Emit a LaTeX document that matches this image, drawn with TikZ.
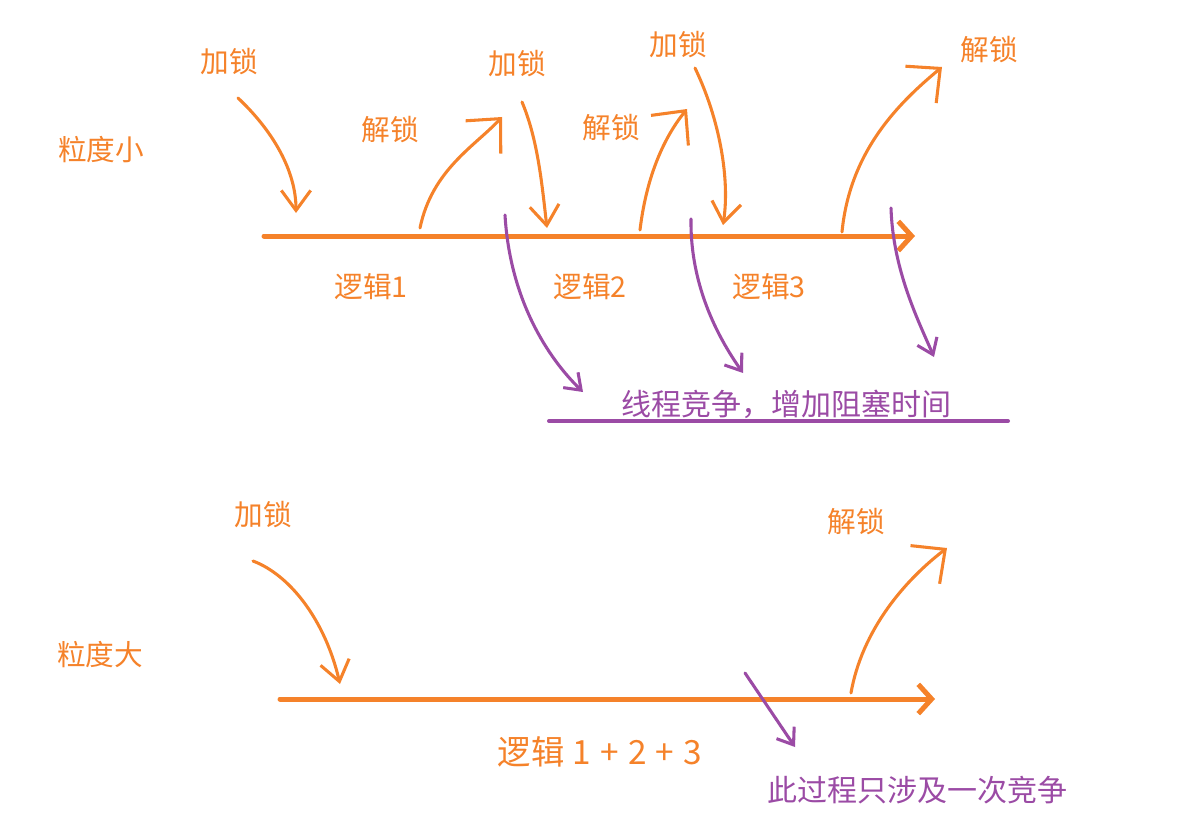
\documentclass[tikz,border=0pt]{standalone}
\usepackage{fontspec}
\setmainfont{Noto Sans CJK SC}
\usetikzlibrary{arrows.meta}
\definecolor{lockorange}{HTML}{F5822A}
\definecolor{racepurple}{HTML}{9B4BA5}
\begin{document}
\begin{tikzpicture}[x=0.75pt, y=-0.75pt, line join=round, line cap=round,
		lbl/.style={text=lockorange, inner sep=0pt, font=\fontsize{21.5}{25}\selectfont},
		racelbl/.style={lbl, text=racepurple, font=\fontsize{22.5}{26}\selectfont},
		axis/.style={draw=lockorange, line width=3.75pt, -{Straight Barb[length=10pt,width=22pt]}},
		lockarr/.style={draw=lockorange, line width=2.3pt, -{Straight Barb[length=15pt,width=22pt]}},
		freearr/.style={draw=lockorange, line width=2.3pt, -{Straight Barb[length=19pt,width=36pt]}},
		racearr/.style={draw=racepurple, line width=2.3pt, -{Straight Barb[length=11pt,width=16pt]}}]
	\useasboundingbox (0,0) rectangle (1183,824);
	% fine grained
	\node[lbl] (small) at (101,150) {粒度小};
	\foreach \n/\x/\y/\t in {lkA/229/62/加锁, ulA/390/130/解锁, lkB/517/64/加锁, ulB/611/128/解锁,
		lkC/678/45/加锁, ulC/989/50/解锁, lg1/371/287/逻辑1, lg2/590/287/逻辑2, lg3/769/287/逻辑3}{
		\node[lbl] (\n) at (\x,\y) {\t};}
	\coordinate (ax1s) at (264,236); \coordinate (ax1e) at (915,236);
	\draw[axis] (ax1s) -- (ax1e);
	\coordinate (a1s) at (238,98);  \coordinate (a1e) at (296,213);
	\coordinate (a2s) at (420,228); \coordinate (a2e) at (502,117);
	\coordinate (a3s) at (522,102); \coordinate (a3e) at (547,228);
	\coordinate (a4s) at (640,230); \coordinate (a4e) at (687,109);
	\coordinate (a5s) at (695,68);  \coordinate (a5e) at (723,225);
	\coordinate (a6s) at (842,232); \coordinate (a6e) at (942,67);
	\draw[lockarr] (a1s) .. controls (272,130) and (296,170) .. (a1e);
	\draw[freearr] (a2s) .. controls (432,170) and (475,146) .. (a2e);
	\draw[lockarr] (a3s) .. controls (538,140) and (542,185) .. (a3e);
	\draw[freearr] (a4s) .. controls (646,180) and (662,140) .. (a4e);
	\draw[lockarr] (a5s) .. controls (720,120) and (730,180) .. (a5e);
	\draw[freearr] (a6s) .. controls (850,150) and (900,102) .. (a6e);
	% contention
	\node[racelbl] (race) at (786,404) {线程竞争，增加阻塞时间};
	\coordinate (rls) at (549,421); \coordinate (rle) at (1008,421);
	\draw[racepurple, line width=3pt] (rls) -- (rle);
	\coordinate (r1s) at (505,215); \coordinate (r1e) at (583,392);
	\coordinate (r2s) at (691,219); \coordinate (r2e) at (743,373);
	\coordinate (r3s) at (891,208); \coordinate (r3e) at (934,357);
	\draw[racearr] (r1s) .. controls (510,300) and (548,358) .. (r1e);
	\draw[racearr] (r2s) .. controls (690,290) and (722,343) .. (r2e);
	\draw[racearr] (r3s) .. controls (893,270) and (918,320) .. (r3e);
	% coarse grained
	\node[lbl] (big) at (100,655) {粒度大};
	\node[lbl] (lkD) at (263,515) {加锁};
	\node[lbl] (ulD) at (856,522) {解锁};
	\node[lbl, font=\fontsize{25}{29}\selectfont] (lgall) at (600,752)
		{逻辑\hspace{6pt}1\hspace{7pt}+\hspace{7pt}2\hspace{7pt}+\hspace{7pt}3};
	\node[racelbl] (once) at (917,790) {此过程只涉及一次竞争};
	\coordinate (ax2s) at (280,699); \coordinate (ax2e) at (935,699);
	\draw[axis] (ax2s) -- (ax2e);
	\coordinate (b1s) at (253,561); \coordinate (b1e) at (340,684);
	\coordinate (b2s) at (851,693); \coordinate (b2e) at (947,548);
	\coordinate (b3s) at (745,673); \coordinate (b3e) at (795,747);
	\draw[lockarr] (b1s) .. controls (290,575) and (325,620) .. (b1e);
	\draw[freearr] (b2s) .. controls (862,630) and (905,580) .. (b2e);
	\draw[racearr] (b3s) -- (b3e);
\end{tikzpicture}
\end{document}
